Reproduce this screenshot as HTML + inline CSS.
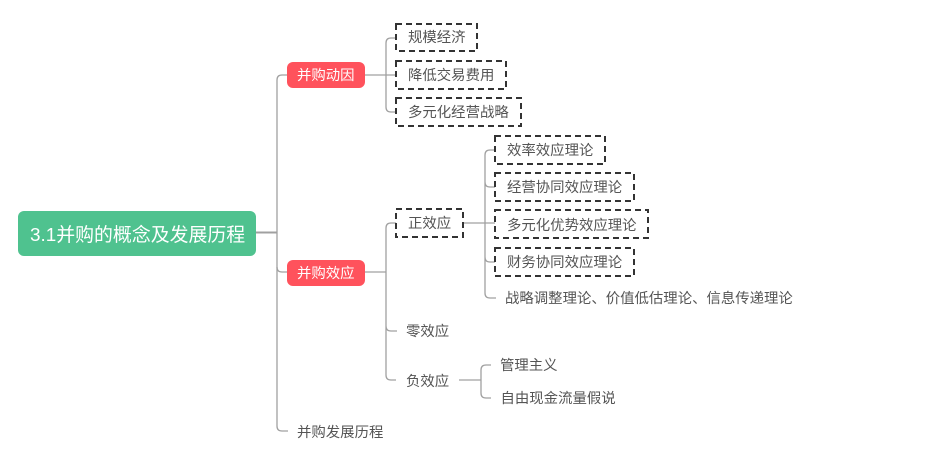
<!DOCTYPE html>
<html lang="zh">
<head>
<meta charset="utf-8">
<style>
html,body{margin:0;padding:0;background:#fff;width:927px;height:476px;overflow:hidden}
svg{display:block}
text{font-family:"Liberation Sans","Noto Sans CJK SC",sans-serif;font-size:14.4px;fill:#555}
.w{fill:#fff}
.l{fill:none;stroke:#a0a0a0;stroke-width:1.3}
.b{fill:#fff;stroke:#333;stroke-width:2;stroke-dasharray:6 4}
</style>
</head>
<body>
<svg width="927" height="476" viewBox="0 0 927 476" xmlns="http://www.w3.org/2000/svg">
<!-- connectors -->
<path class="l" style="stroke-width:2" d="M255 232.500H277"/>
<path class="l" d="M287 75H282Q277 75 277 80V426Q277 431 282 431H288"/>
<path class="l" d="M277 267Q277 272 282 272H287"/>
<path class="l" d="M364 75H396M396 38H391Q386 38 386 43V107Q386 112 391 112H396"/>
<path class="l" d="M364 272H386M396 223H391Q386 223 386 228V375Q386 380 391 380H396M386 326Q386 331 391 331H397"/>
<path class="l" d="M463 223H495M495 150H490Q485 150 485 155V293Q485 298 490 298H496M485 182Q485 187 490 187H495M485 257Q485 262 490 262H495"/>
<path class="l" d="M459 380H481M491 365H486Q481 365 481 370V393Q481 398 486 398H491"/>
<!-- root -->
<rect x="18" y="211" width="238" height="45" rx="6" fill="#4fc28f"/>
<text class="w" x="30" y="241" style="font-size:18.9px">3.1并购的概念及发展历程</text>
<!-- main -->
<rect x="287" y="62" width="78" height="26" rx="6" fill="#ff525c"/>
<text class="w" x="297" y="80">并购动因</text>
<rect x="287" y="260" width="78" height="26" rx="6" fill="#ff525c"/>
<text class="w" x="297" y="278">并购效应</text>
<!-- dashed boxes -->
<rect class="b" x="396" y="24" width="81" height="27"/>
<text x="408" y="42">规模经济</text>
<rect class="b" x="396" y="61" width="110" height="28"/>
<text x="408" y="80">降低交易费用</text>
<rect class="b" x="396" y="98" width="125" height="28"/>
<text x="408" y="117">多元化经营战略</text>
<rect class="b" x="396" y="209" width="67" height="28"/>
<text x="408" y="228">正效应</text>
<rect class="b" x="495" y="136" width="110" height="28"/>
<text x="507" y="155">效率效应理论</text>
<rect class="b" x="495" y="173" width="139" height="28"/>
<text x="507" y="192">经营协同效应理论</text>
<rect class="b" x="495" y="210" width="153" height="28"/>
<text x="507" y="230">多元化优势效应理论</text>
<rect class="b" x="495" y="248" width="139" height="28"/>
<text x="507" y="267">财务协同效应理论</text>
<!-- plain -->
<text x="505" y="303">战略调整理论、价值低估理论、信息传递理论</text>
<text x="406" y="336">零效应</text>
<text x="406" y="386">负效应</text>
<text x="500" y="370">管理主义</text>
<text x="500.500" y="403">自由现金流量假说</text>
<text x="297" y="437">并购发展历程</text>
</svg>
</body>
</html>
